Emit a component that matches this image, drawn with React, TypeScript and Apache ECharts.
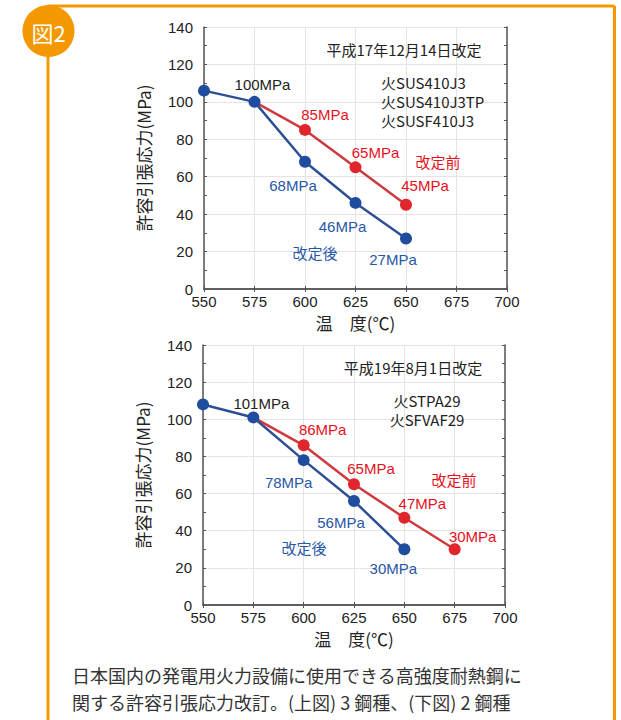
import React, { useEffect, useRef } from "react";
import * as echarts from "echarts";

const NUM_FONT = "'Liberation Sans', Arial, 'Noto Sans CJK JP', sans-serif";
const JP_FONT = "'Noto Sans CJK JP', 'Liberation Sans', sans-serif";

// x-axis ticks (temperature, °C) and y-axis range (allowable stress, MPa)
const xMin = 550;
const xMax = 700;
const xStep = 25;
const yMin = 0;
const yMax = 140;
const yStep = 20;

// Upper chart (H17.12.14 revision)
const top_afterTemps = [550, 575, 600, 625, 650];
const top_afterStress = [106, 100, 68, 46, 27];
const top_beforeTemps = [575, 600, 625, 650];
const top_beforeStress = [100, 85, 65, 45];

// Lower chart (H19.8.1 revision)
const bot_afterTemps = [550, 575, 600, 625, 650];
const bot_afterStress = [108, 101, 78, 56, 30];
const bot_beforeTemps = [575, 600, 625, 650, 675];
const bot_beforeStress = [101, 86, 65, 47, 30];

// Label offsets (pixels, style only)
const top_afterOffsets: ([number, number] | null)[] = [null, [8, -17], [-12, 24], [-13, 24], [-13, 21]];
const top_beforeOffsets: ([number, number] | null)[] = [null, [20, -15], [20, -15], [19, -19]];
const bot_afterOffsets: ([number, number] | null)[] = [null, [8, -14], [-15, 22], [-13, 21], [-11, 19]];
const bot_beforeOffsets: ([number, number] | null)[] = [null, [19, -16], [17, -16], [18, -14], [18, -13]];

const BLUE_LINE = "#2f4f95";
const BLUE_DOT = "#1f4c9e";
const BLUE_TEXT = "#2757a6";
const RED_LINE = "#cf3a3e";
const RED_DOT = "#e0262c";
const RED_TEXT = "#e60f1c";
const ORANGE = "#f39800";
const TEXT = "#222";

function makeData(
  temps: number[],
  stress: number[],
  offsets: ([number, number] | null)[],
  color: string,
  hideFirstSymbol: boolean,
  firstLabelColor?: string
) {
  return temps.map((t, i) => {
    const off = offsets[i];
    const item: any = { value: [t, stress[i]] };
    if (i === 0 && hideFirstSymbol) item.symbolSize = 0;
    if (off) {
      item.label = {
        show: true,
        formatter: `${stress[i]}MPa`,
        position: "inside",
        offset: off,
        color: color,
        fontSize: 15,
        fontFamily: NUM_FONT,
      };
    } else if (i === 1 && firstLabelColor) {
      // not used
    }
    return item;
  });
}

function axesFor(gi: number) {
  const line = { show: true, lineStyle: { color: "#555", width: 1.5 } };
  const tick = { show: true, inside: true, length: 3, lineStyle: { color: "#555", width: 1 } };
  const xAxes = [
    {
      gridIndex: gi,
      type: "value",
      min: xMin,
      max: xMax,
      interval: xStep,
      position: "bottom",
      axisLine: line,
      axisTick: tick,
      axisLabel: { fontSize: 15, color: TEXT, margin: 5, fontFamily: NUM_FONT },
      splitLine: { show: true, lineStyle: { color: "#e4e4e4", width: 1 } },
      name: "温　度(℃)",
      nameLocation: "middle",
      nameGap: 25,
      nameTextStyle: { fontSize: 17, color: TEXT, fontFamily: JP_FONT },
    },
    {
      gridIndex: gi,
      type: "value",
      min: xMin,
      max: xMax,
      interval: xStep,
      position: "top",
      axisLine: line,
      axisTick: tick,
      axisLabel: { show: false },
      splitLine: { show: false },
    },
  ];
  const yAxes = [
    {
      gridIndex: gi,
      type: "value",
      min: yMin,
      max: yMax,
      interval: yStep,
      position: "left",
      axisLine: line,
      axisTick: tick,
      minorTick: { show: true, splitNumber: 2, length: 3, lineStyle: { color: "#555" } },
      axisLabel: { fontSize: 15, color: TEXT, margin: 11, fontFamily: NUM_FONT },
      splitLine: { show: true, lineStyle: { color: "#e4e4e4", width: 1 } },
      name: "許容引張応力(MPa)",
      nameLocation: "middle",
      nameGap: 52,
      nameTextStyle: { fontSize: 17, color: TEXT, fontFamily: JP_FONT },
    },
    {
      gridIndex: gi,
      type: "value",
      min: yMin,
      max: yMax,
      interval: yStep,
      position: "right",
      axisLine: line,
      axisTick: tick,
      minorTick: { show: true, splitNumber: 2, length: 3, lineStyle: { color: "#555" } },
      axisLabel: { show: false },
      splitLine: { show: false },
    },
  ];
  return { xAxes, yAxes };
}

function lineSeries(gi: number, data: any[], lineColor: string, dotColor: string, z: number) {
  return {
    type: "line",
    xAxisIndex: gi * 2,
    yAxisIndex: gi * 2,
    data,
    symbol: "circle",
    symbolSize: 12,
    lineStyle: { color: lineColor, width: 2.5 },
    itemStyle: { color: dotColor },
    z,
    label: { show: false },
  };
}

function txt(text: string, x: number, y: number, color: string, size: number, align = "center", font = JP_FONT) {
  return {
    type: "text",
    x,
    y,
    z: 50,
    style: { text, fill: color, fontSize: size, fontFamily: font, align, verticalAlign: "middle" },
  };
}

export default function App() {
  const ref = useRef<HTMLDivElement>(null);
  useEffect(() => {
    if (!ref.current) return;
    const chart = echarts.init(ref.current, undefined, { renderer: "svg" });
    const a0 = axesFor(0);
    const a1 = axesFor(1);

    const topAfter = makeData(top_afterTemps, top_afterStress, top_afterOffsets, BLUE_TEXT, false);
    topAfter[1].label.color = TEXT;
    const topBefore = makeData(top_beforeTemps, top_beforeStress, top_beforeOffsets, RED_TEXT, true);
    const botAfter = makeData(bot_afterTemps, bot_afterStress, bot_afterOffsets, BLUE_TEXT, false);
    botAfter[1].label.color = TEXT;
    const botBefore = makeData(bot_beforeTemps, bot_beforeStress, bot_beforeOffsets, RED_TEXT, true);

    chart.setOption({
      animation: false,
      backgroundColor: "#ffffff",
      grid: [
        { left: 204, top: 27, width: 303, height: 262 },
        { left: 203, top: 345, width: 302, height: 260 },
      ],
      xAxis: [...a0.xAxes, ...a1.xAxes],
      yAxis: [...a0.yAxes, ...a1.yAxes],
      series: [
        lineSeries(0, topBefore, RED_LINE, RED_DOT, 2),
        lineSeries(0, topAfter, BLUE_LINE, BLUE_DOT, 3),
        lineSeries(1, botBefore, RED_LINE, RED_DOT, 2),
        lineSeries(1, botAfter, BLUE_LINE, BLUE_DOT, 3),
      ],
      graphic: [
        // orange frame
        { type: "line", z: 1, shape: { x1: 48, y1: 6, x2: 614.5, y2: 6 }, style: { stroke: ORANGE, lineWidth: 3 } },
        { type: "line", z: 1, shape: { x1: 614.5, y1: 6, x2: 614.5, y2: 720 }, style: { stroke: ORANGE, lineWidth: 3 } },
        { type: "line", z: 1, shape: { x1: 48, y1: 30, x2: 48, y2: 720 }, style: { stroke: ORANGE, lineWidth: 3 } },
        { type: "circle", z: 2, shape: { cx: 48.5, cy: 31, r: 26 }, style: { fill: ORANGE } },
        txt("図2", 48.5, 32, "#ffffff", 22),
        // upper chart annotations
        txt("平成17年12月14日改定", 404, 49, TEXT, 15),
        txt("火SUS410J3", 381, 82, TEXT, 15, "left"),
        txt("火SUS410J3TP", 381, 101, TEXT, 15, "left"),
        txt("火SUSF410J3", 381, 120, TEXT, 15, "left"),
        txt("改定前", 438, 161, RED_TEXT, 15),
        txt("改定後", 315, 252, BLUE_TEXT, 15),
        // lower chart annotations
        txt("平成19年8月1日改定", 413, 367, TEXT, 15),
        txt("火STPA29", 427, 400, TEXT, 15),
        txt("火SFVAF29", 427, 419, TEXT, 15),
        txt("改定前", 454, 479, RED_TEXT, 15),
        txt("改定後", 304, 547, BLUE_TEXT, 15),
        // caption
        txt("日本国内の発電用火力設備に使用できる高強度耐熱鋼に", 72, 675, "#333", 18, "left"),
        txt("関する許容引張応力改訂。(上図) 3 鋼種、(下図) 2 鋼種", 72, 702, "#333", 18, "left"),
      ],
    });
    return () => chart.dispose();
  }, []);
  return (
    <div
      ref={ref}
      style={{ position: "absolute", left: 0, top: 0, width: 621, height: 720, background: "#fff" }}
    />
  );
}
